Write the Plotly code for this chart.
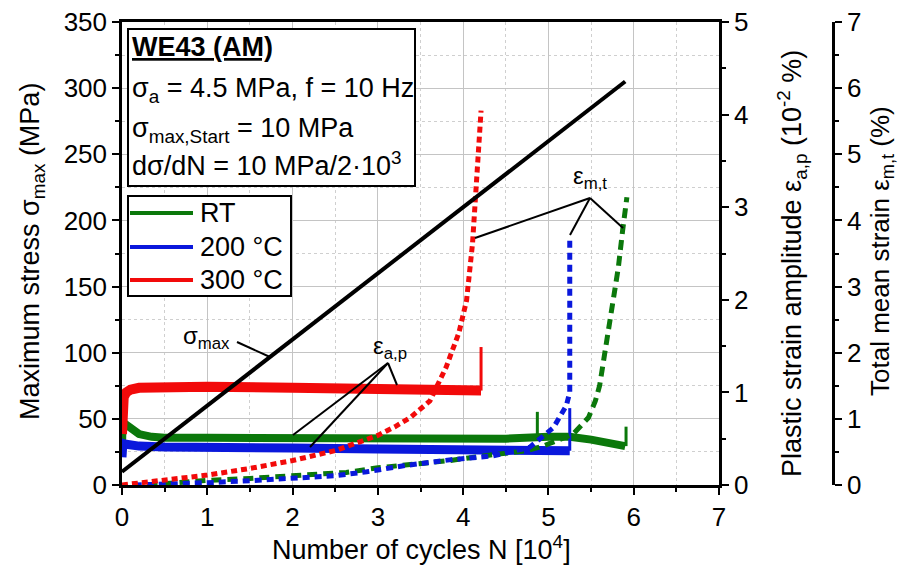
import plotly.graph_objects as go

# ---------------- data ----------------
# stress ramp (left axis, MPa)
N_stress = [0.0, 5.9]
sigma_max = [10, 305]

# plastic strain amplitude eps_a,p (10^-2 %), noisy bands
N_ap_RT = [0.0, 0.005, 0.05, 0.1, 0.2, 0.35, 0.5, 1.0, 2.0, 3.0, 4.0, 4.5, 5.0, 5.25, 5.5, 5.7, 5.9]
ap_RT = [0.32, 0.68, 0.65, 0.61, 0.55, 0.52, 0.51, 0.51, 0.51, 0.51, 0.49, 0.50, 0.52, 0.52, 0.49, 0.45, 0.42]
N_ap_200 = [0.0, 0.01, 0.05, 0.2, 0.5, 1.0, 2.0, 3.0, 4.0, 4.5, 5.0, 5.25]
ap_200 = [0.30, 0.45, 0.44, 0.42, 0.41, 0.40, 0.40, 0.39, 0.38, 0.39, 0.38, 0.37]
N_ap_300 = [0.0, 0.005, 0.02, 0.05, 0.1, 0.2, 0.5, 1.0, 2.0, 3.0, 4.0, 4.21]
ap_300 = [0.55, 0.85, 0.95, 1.00, 1.03, 1.05, 1.06, 1.06, 1.05, 1.03, 1.03, 1.02]

# end / intermediate spikes of the eps_a,p curves
N_spk_RT_a = [4.87, 4.87]
spk_RT_a = [0.50, 0.79]
N_spk_RT_b = [5.91, 5.91]
spk_RT_b = [0.42, 0.63]
N_spk_200 = [5.25, 5.25]
spk_200 = [0.37, 0.83]
N_spk_300 = [4.21, 4.21]
spk_300 = [1.02, 1.49]

# total mean strain eps_m,t (%)
N_m_300 = [0.0, 0.5, 1.0, 1.5, 2.0, 2.5, 2.87, 3.0, 3.2, 3.38, 3.61, 3.8, 3.95, 4.04, 4.11, 4.15, 4.19, 4.21]
m_300 = [0.0, 0.08, 0.15, 0.25, 0.37, 0.52, 0.68, 0.75, 0.88, 1.02, 1.27, 1.78, 2.3, 2.79, 3.65, 4.45, 5.1, 5.66]
N_m_200 = [0.15, 0.5, 1.0, 1.5, 2.0, 2.5, 2.87, 3.3, 3.84, 4.35, 4.78, 5.06, 5.21, 5.25, 5.25]
m_200 = [0.0, 0.01, 0.035, 0.065, 0.1, 0.14, 0.2, 0.29, 0.38, 0.44, 0.57, 0.87, 1.2, 1.4, 3.75]
N_m_RT = [0.3, 0.6, 1.0, 1.5, 2.0, 2.63, 3.0, 3.5, 3.84, 4.3, 4.75, 4.94, 5.29, 5.47, 5.55, 5.6, 5.68, 5.76, 5.82, 5.87, 5.92]
m_RT = [0.0, 0.03, 0.07, 0.1, 0.14, 0.19, 0.26, 0.32, 0.37, 0.45, 0.52, 0.59, 0.77, 1.02, 1.27, 1.5, 2.14, 2.79, 3.29, 3.85, 4.35]

legend_labels = ["RT", "200 °C", "300 °C"]

# ---------------- layout geometry ----------------
W, H = 901, 571
ML, MR, MT, MB = 122, 0, 22, 86
X_RIGHT_PX = 719
Y3_PX = 833
pw = W - ML - MR
ph = H - MT - MB
xdom_end = (X_RIGHT_PX - ML) / pw


def px_x(px):
    return (px - ML) / pw


def px_y(py):
    return (H - MB - py) / ph


FONT = "Liberation Sans, Arial, Helvetica, sans-serif"
GREEN = "#0b780b"
BLUE = "#0a18dc"
RED = "#f20a0a"
colors = [GREEN, BLUE, RED]

fig = go.Figure()

# plastic strain amplitude bands (base axis y)
for xs, ys, c, w in [(N_ap_RT, ap_RT, GREEN, 8), (N_ap_200, ap_200, BLUE, 9), (N_ap_300, ap_300, RED, 10)]:
    fig.add_trace(go.Scatter(x=xs, y=ys, mode="lines", line=dict(color=c, width=w),
                             xaxis="x", yaxis="y", showlegend=False, hoverinfo="skip"))
for xs, ys, c in [(N_spk_RT_a, spk_RT_a, GREEN), (N_spk_RT_b, spk_RT_b, GREEN),
                  (N_spk_200, spk_200, BLUE), (N_spk_300, spk_300, RED)]:
    fig.add_trace(go.Scatter(x=xs, y=ys, mode="lines", line=dict(color=c, width=3),
                             xaxis="x", yaxis="y", showlegend=False, hoverinfo="skip"))

# mean strain (axis y2)
for xs, ys, c, d, w in [(N_m_RT, m_RT, GREEN, "10px,6px", 5), (N_m_200, m_200, BLUE, "7px,5px", 5),
                        (N_m_300, m_300, RED, "6px,4px", 5)]:
    fig.add_trace(go.Scatter(x=xs, y=ys, mode="lines", line=dict(color=c, width=w, dash=d),
                             xaxis="x", yaxis="y2", showlegend=False, hoverinfo="skip"))

# stress ramp (axis y3)
fig.add_trace(go.Scatter(x=N_stress, y=sigma_max, mode="lines", line=dict(color="black", width=4),
                         xaxis="x", yaxis="y3", showlegend=False, hoverinfo="skip"))

tickfont = dict(family=FONT, size=26, color="black")
axis_common = dict(showline=True, linecolor="black", linewidth=2.5, ticks="outside", ticklen=7,
                   tickwidth=2, tickcolor="black", zeroline=False, tickfont=tickfont, automargin=False)

fig.update_layout(
    width=W, height=H,
    margin=dict(l=ML, r=MR, t=MT, b=MB),
    paper_bgcolor="white", plot_bgcolor="white",
    font=dict(family=FONT, size=26, color="black"),
    xaxis=dict(domain=[0, xdom_end], range=[0, 7], dtick=1, anchor="y", mirror=True,
               showgrid=True, gridcolor="#c4c4c4", gridwidth=1,
               minor=dict(dtick=0.5, ticks="outside", ticklen=4, tickwidth=2, tickcolor="black",
                          showgrid=True, gridcolor="#cfcfcf", griddash="dot", gridwidth=1),
               **axis_common),
    yaxis=dict(range=[0, 5], dtick=1, side="right", anchor="x", showgrid=False,
               minor=dict(dtick=0.5, ticks="outside", ticklen=4, tickwidth=2, tickcolor="black", showgrid=False),
               **axis_common),
    yaxis2=dict(range=[0, 7], dtick=1, side="right", overlaying="y", anchor="free", position=px_x(Y3_PX),
                showgrid=False,
                minor=dict(dtick=0.5, ticks="outside", ticklen=4, tickwidth=2, tickcolor="black", showgrid=False),
                **axis_common),
    yaxis3=dict(range=[0, 350], dtick=50, side="left", overlaying="y", anchor="x",
                showgrid=True, gridcolor="#c4c4c4", gridwidth=1,
                minor=dict(dtick=25, ticks="outside", ticklen=4, tickwidth=2, tickcolor="black",
                           showgrid=True, gridcolor="#cfcfcf", griddash="dot", gridwidth=1),
                **axis_common),
)

shapes = []
annotations = []

# info box and legend box
shapes.append(dict(type="rect", xref="paper", yref="paper", x0=px_x(128), x1=px_x(415), y0=px_y(186), y1=px_y(29),
                   line=dict(color="black", width=2), fillcolor="white", layer="above"))
shapes.append(dict(type="rect", xref="paper", yref="paper", x0=px_x(128), x1=px_x(291), y0=px_y(296), y1=px_y(196),
                   line=dict(color="black", width=2), fillcolor="white", layer="above"))
leg_y = [213, 247, 280]
for lab, c, yy in zip(legend_labels, colors, leg_y):
    shapes.append(dict(type="line", xref="paper", yref="paper", x0=px_x(130), x1=px_x(193),
                       y0=px_y(yy), y1=px_y(yy), line=dict(color=c, width=4), layer="above"))
    annotations.append(dict(text=lab, xref="paper", yref="paper", x=px_x(198), y=px_y(yy),
                            xanchor="left", yanchor="middle", showarrow=False, font=dict(size=27)))

box_lines = [
    ("<b><u>WE43 (AM)</u></b>", 47),
    ("σ<sub>a</sub> = 4.5 MPa, f = 10 Hz", 90),
    ("σ<sub>max,Start</sub> = 10 MPa", 130),
    ("dσ/dN = 10 MPa/2·10<sup>3</sup>", 164),
]
for t, yy in box_lines:
    annotations.append(dict(text=t, xref="paper", yref="paper", x=px_x(130), y=px_y(yy),
                            xanchor="left", yanchor="middle", showarrow=False, font=dict(size=27)))

# leader lines (in N / stress coordinates)
def sx(px):
    return (px - ML) / (X_RIGHT_PX - ML) * 7


def sy(py):
    return (H - MB - py) / ph * 350


leaders = [
    ((237, 342), (270, 357)),
    ((388, 363), (293, 435)), ((388, 363), (310, 447)), ((388, 363), (397, 385)),
    ((590, 198), (475, 238)), ((590, 198), (570, 235)), ((590, 198), (623, 228)),
]
for (a, b) in leaders:
    shapes.append(dict(type="line", xref="x", yref="y3", x0=sx(a[0]), y0=sy(a[1]), x1=sx(b[0]), y1=sy(b[1]),
                       line=dict(color="black", width=2), layer="above"))

for t, (px, py) in [("σ<sub>max</sub>", (206, 337)), ("ε<sub>a,p</sub>", (390, 348)), ("ε<sub>m,t</sub>", (590, 177))]:
    annotations.append(dict(text=t, xref="paper", yref="paper", x=px_x(px), y=px_y(py),
                            xanchor="center", yanchor="middle", showarrow=False, font=dict(size=24)))

# axis titles
annotations.append(dict(text="Maximum stress σ<sub>max</sub> (MPa)", xref="paper", yref="paper",
                        x=px_x(32), y=px_y(252), textangle=-90, xanchor="center", yanchor="middle",
                        showarrow=False, font=dict(size=27)))
annotations.append(dict(text="Plastic strain amplitude ε<sub>a,p</sub> (10<sup>-2</sup> %)", xref="paper", yref="paper",
                        x=px_x(792), y=px_y(264), textangle=-90, xanchor="center", yanchor="middle",
                        showarrow=False, font=dict(size=27)))
annotations.append(dict(text="Total mean strain ε<sub>m,t</sub> (%)", xref="paper", yref="paper",
                        x=px_x(881), y=px_y(251), textangle=-90, xanchor="center", yanchor="middle",
                        showarrow=False, font=dict(size=26)))
annotations.append(dict(text="Number of cycles N [10<sup>4</sup>]", xref="paper", yref="paper",
                        x=px_x(421), y=px_y(548), xanchor="center", yanchor="middle",
                        showarrow=False, font=dict(size=27)))

fig.update_layout(shapes=shapes, annotations=annotations)
fig.write_html("out.html")
